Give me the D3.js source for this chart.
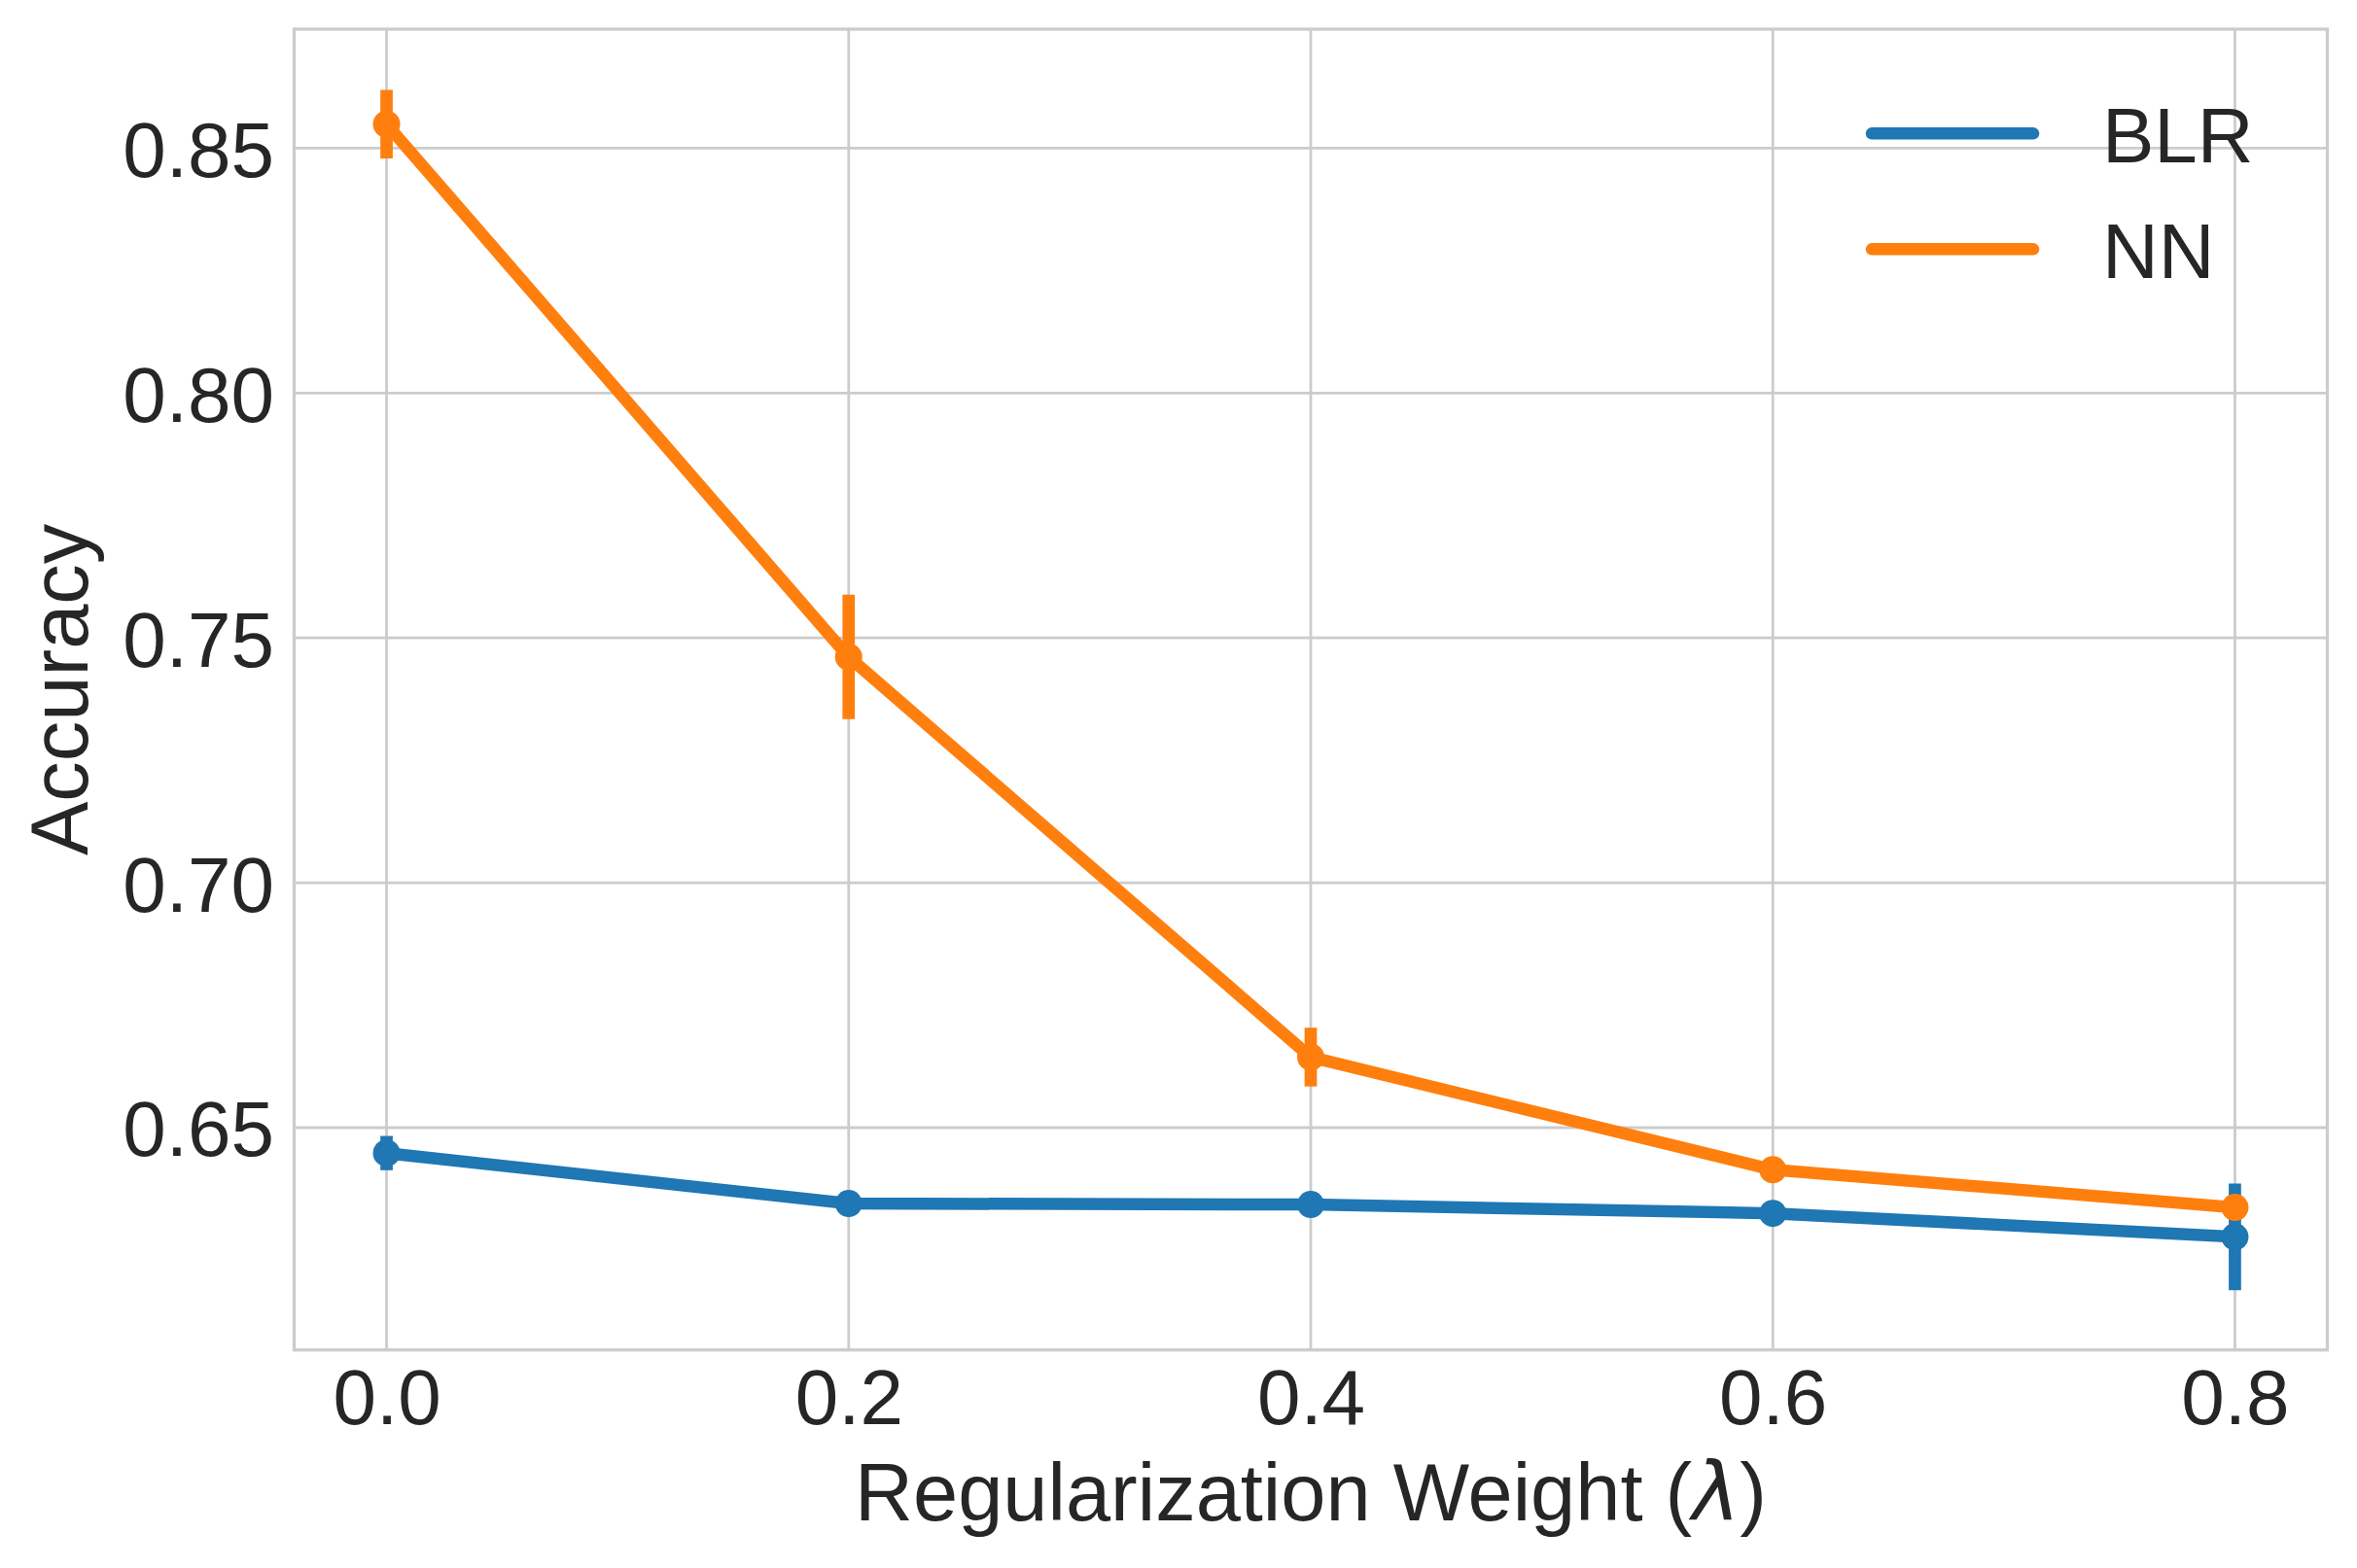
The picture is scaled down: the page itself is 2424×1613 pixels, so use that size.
<!DOCTYPE html>
<html>
<head>
<meta charset="utf-8">
<script src="https://cdn.jsdelivr.net/npm/d3@7"></script>
<style>
  html, body { margin: 0; padding: 0; background: #fff; }
  svg { display: block; }
  text { font-family: "Liberation Sans", Arial, sans-serif; fill: #262626; }
</style>
</head>
<body>
<svg id="chart" width="2424" height="1613"></svg>
<script>
// ---- data ----
const lambdas = [0.0, 0.2, 0.4, 0.6, 0.8];
const blrAcc = [0.6448, 0.6345, 0.6343, 0.6325, 0.6277];
const blrErr = [0.0035, 0.0020, 0.0015, 0.0015, 0.0109];
const nnAcc  = [0.8549, 0.7461, 0.6644, 0.6414, 0.6337];
const nnErr  = [0.0070, 0.0127, 0.0060, 0.0020, 0.0020];
const seriesNames = ["BLR", "NN"];
const xTicks = [0.0, 0.2, 0.4, 0.6, 0.8];
const yTicks = [0.65, 0.70, 0.75, 0.80, 0.85];

// ---- layout ----
const W = 2424, H = 1613;
const pL = 302.5, pR = 2393.5, pT = 30, pB = 1388.7;
const colors = ["#1f77b4", "#ff7f0e"];
const svg = d3.select("#chart");

const x = d3.scaleLinear().domain([-0.04, 0.84]).range([pL, pR]);
const y = d3.scaleLinear().domain([0.6046, 0.8743]).range([pB, pT]);

svg.append("rect").attr("x", 0).attr("y", 0).attr("width", W).attr("height", H).attr("fill", "#fff");

// grid
const grid = svg.append("g");
grid.selectAll("line.vx").data(xTicks).enter().append("line")
  .attr("x1", d => x(d)).attr("x2", d => x(d))
  .attr("y1", pT).attr("y2", pB)
  .attr("stroke", "#cccccc").attr("stroke-width", 2.8);
grid.selectAll("line.hy").data(yTicks).enter().append("line")
  .attr("x1", pL).attr("x2", pR)
  .attr("y1", d => y(d)).attr("y2", d => y(d))
  .attr("stroke", "#cccccc").attr("stroke-width", 2.8);

// axes (tick labels via d3 axes, no tick lines / domain)
const xAxis = d3.axisBottom(x).tickValues(xTicks).tickFormat(d3.format(".1f")).tickSize(0).tickPadding(0);
const gx = svg.append("g").attr("transform", `translate(0,${pB})`).call(xAxis);
gx.select(".domain").remove();
gx.selectAll("text").attr("font-size", 80).attr("fill", "#262626")
  .attr("font-family", "Liberation Sans, Arial, sans-serif")
  .attr("dy", null).attr("y", 76);

const yAxis = d3.axisLeft(y).tickValues(yTicks).tickFormat(d3.format(".2f")).tickSize(0).tickPadding(0);
const gy = svg.append("g").attr("transform", `translate(${pL},0)`).call(yAxis);
gy.select(".domain").remove();
gy.selectAll("text").attr("font-size", 80).attr("fill", "#262626")
  .attr("font-family", "Liberation Sans, Arial, sans-serif")
  .attr("dy", null).attr("x", -20.5).attr("y", 29);

// data series
const allSeries = [
  { name: seriesNames[0], vals: blrAcc, errs: blrErr, color: colors[0] },
  { name: seriesNames[1], vals: nnAcc, errs: nnErr, color: colors[1] }
];
const line = d3.line().x(d => x(d[0])).y(d => y(d[1]));
allSeries.forEach(s => {
  const pts = lambdas.map((l, i) => [l, s.vals[i], s.errs[i]]);
  const g = svg.append("g");
  g.append("path").datum(pts).attr("d", line)
    .attr("fill", "none").attr("stroke", s.color).attr("stroke-width", 12.5)
    .attr("stroke-linejoin", "round").attr("stroke-linecap", "butt");
  g.selectAll("circle").data(pts).enter().append("circle")
    .attr("cx", d => x(d[0])).attr("cy", d => y(d[1])).attr("r", 14)
    .attr("fill", s.color);
  g.selectAll("line.err").data(pts).enter().append("line")
    .attr("x1", d => x(d[0])).attr("x2", d => x(d[0]))
    .attr("y1", d => y(d[1] - d[2])).attr("y2", d => y(d[1] + d[2]))
    .attr("stroke", s.color).attr("stroke-width", 12.7);
});

// spines
svg.append("rect").attr("x", pL).attr("y", pT)
  .attr("width", pR - pL).attr("height", pB - pT)
  .attr("fill", "none").attr("stroke", "#cccccc").attr("stroke-width", 3.3);

// legend
const legY = [137.3, 256.3];
allSeries.forEach((s, i) => {
  svg.append("line").attr("x1", 1925).attr("x2", 2091)
    .attr("y1", legY[i]).attr("y2", legY[i])
    .attr("stroke", s.color).attr("stroke-width", 12.5).attr("stroke-linecap", "round");
  svg.append("text").attr("x", 2162).attr("y", legY[i] + 29.6)
    .attr("font-size", 80).text(s.name);
});

// axis labels
const xl = svg.append("text").attr("x", (pL + pR) / 2).attr("y", 1564)
  .attr("text-anchor", "middle").attr("font-size", 83);
xl.append("tspan").text("Regularization Weight (");
xl.append("tspan").attr("font-family", "DejaVu Sans").attr("font-style", "italic").text("λ");
xl.append("tspan").text(")");

svg.append("text").attr("transform", `translate(90,${(pT + pB) / 2}) rotate(-90)`)
  .attr("text-anchor", "middle").attr("font-size", 83).text("Accuracy");
</script>
</body>
</html>
